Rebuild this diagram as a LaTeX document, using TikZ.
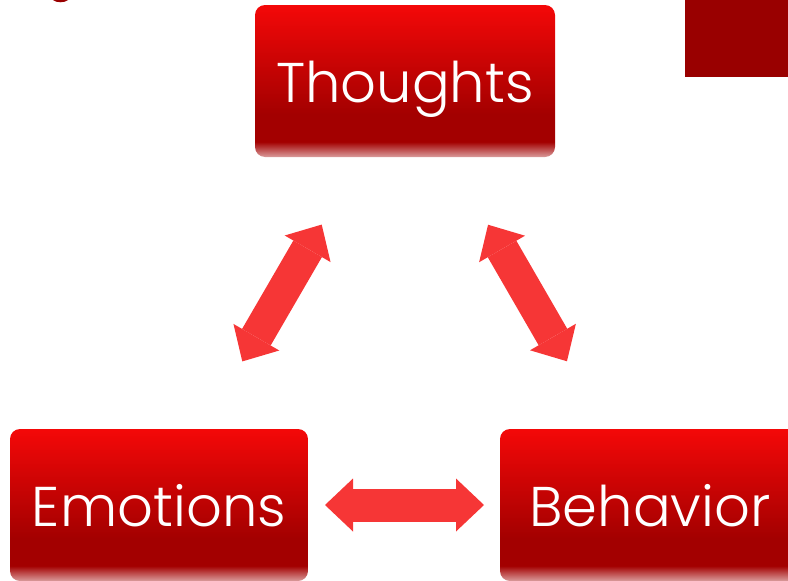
\documentclass[tikz,border=0pt]{standalone}
\usepackage{fontspec}
\setmainfont{Poppins}[UprightFont=* Light]
\usetikzlibrary{arrows.meta}
\definecolor{boxtop}{RGB}{244,8,8}
\definecolor{boxdark}{RGB}{163,0,0}
\definecolor{boxfade}{RGB}{218,156,156}
\definecolor{arrowred}{RGB}{246,54,54}
\definecolor{cornerred}{RGB}{153,0,0}
\pgfdeclareverticalshading{boxshade}{100bp}{color(0bp)=(boxfade); color(25bp)=(boxfade); color(30bp)=(boxdark); color(39bp)=(boxdark); color(75bp)=(boxtop); color(100bp)=(boxtop)}

\begin{document}
\begin{tikzpicture}[
      x=1pt, y=-1pt,
      box/.style={shade, shading=boxshade, rounded corners=10pt, minimum width=300pt, minimum height=152pt, inner sep=0pt,
        text=white, font=\fontsize{56}{56}\selectfont, text height=42pt, text depth=0pt},
      bigtip/.tip={Triangle[length=28pt 0 0, width=53pt 0 0, line width=0pt 0 0]},
      link/.style={draw=arrowred, line width=33pt, {bigtip}-{bigtip}, shorten <=166pt, shorten >=166pt}
    ]
    \useasboundingbox (0,0) rectangle (788,581);
    \fill[cornerred] (685,0) rectangle (788,77);
    \fill[cornerred] (53,0) .. controls (56,3) and (65,3) .. (68,0) -- cycle;

    \node[box] (thoughts) at (405,81) {Thoughts};
    \node[box, minimum width=298pt] (emotions) at (159,505) {Emotions};
    \node[box] (behavior) at (650,505) {Behavior};

    \draw[link] (thoughts.center) -- (emotions.center);
    \draw[link] (thoughts.center) -- (behavior.center);
    \draw[link] (emotions.center) -- (behavior.center);
  \end{tikzpicture}
\end{document}
